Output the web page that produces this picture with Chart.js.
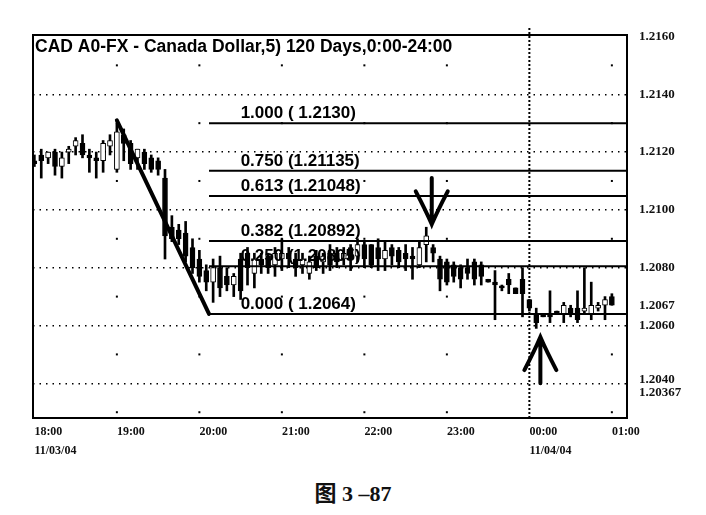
<!DOCTYPE html>
<html>
<head>
<meta charset="utf-8">
<script src="https://cdn.jsdelivr.net/npm/chart.js@4.4.1/dist/chart.umd.min.js"></script>
<style>
  html, body { margin: 0; padding: 0; background: #fff; }
  #wrap { position: relative; width: 706px; height: 515px; }
  #box { position: absolute; left: 0; top: 0; width: 706px; height: 470px; }
  #caption { position: absolute; left: 0; top: 475px; width: 706px; text-align: center;
             font: bold 22px "Liberation Serif", serif; color: #111; }
  #caption .zh { font-family: "Noto Sans CJK SC", sans-serif; }
</style>
</head>
<body>
<div id="wrap">
  <div id="box"><canvas id="chart"></canvas></div>
  <div id="caption"><span class="zh">图</span> 3 –87</div>
</div>
<script>
// 5-minute bars, CAD, 11/03/04 18:00 -> 11/04/04 01:00
const times = [
  '18:00','18:05','18:10','18:15','18:20','18:25','18:30','18:35','18:40','18:45','18:50','18:55',
  '19:00','19:05','19:10','19:15','19:20','19:25','19:30','19:35','19:40','19:45','19:50','19:55',
  '20:00','20:05','20:10','20:15','20:20','20:25','20:30','20:35','20:40','20:45','20:50','20:55',
  '21:00','21:05','21:10','21:15','21:20','21:25','21:30','21:35','21:40','21:45','21:50','21:55',
  '22:00','22:05','22:10','22:15','22:20','22:25','22:30','22:35','22:40','22:45','22:50','22:55',
  '23:00','23:05','23:10','23:15','23:20','23:25','23:30','23:35','23:40','23:45','23:50','23:55',
  '00:00','00:05','00:10','00:15','00:20','00:25','00:30','00:35','00:40','00:45','00:50','00:55',
  '01:00'
];
const opens = [
  1.2117,1.2119,1.2118,1.2120,1.2115,1.2120,1.2122,1.2123,1.2119,1.2118,1.2117,1.2122,
  1.2114,1.2126,1.2123,1.2118,1.2120,1.2118,1.2117,1.2111,1.2094,1.2093,1.2092,1.2087,
  1.2083,1.2079,1.2075,1.2080,1.2077,1.2074,1.2083,1.2085,1.2078,1.2083,1.2084,1.2081,
  1.2083,1.2085,1.2083,1.2081,1.2078,1.2084,1.2082,1.2085,1.2085,1.2083,1.2087,1.2084,
  1.2088,1.2088,1.2087,1.2083,1.2087,1.2086,1.2085,1.2084,1.2081,1.2088,1.2087,1.2083,
  1.2082,1.2081,1.2080,1.2080,1.2082,1.2081,1.2076,1.2075,1.2073,1.2076,1.2073,1.2076,
  1.2069,1.2064,1.2064,1.2064,1.2065,1.2064,1.2066,1.2066,1.2065,1.2064,1.2066,1.2067,
  1.2070
];
const highs = [
  1.2119,1.2121,1.2120,1.2121,1.2120,1.2122,1.2125,1.2126,1.2121,1.2120,1.2124,1.2126,
  1.2130,1.2128,1.2124,1.2121,1.2121,1.2119,1.2118,1.2114,1.2098,1.2095,1.2096,1.2090,
  1.2086,1.2081,1.2083,1.2084,1.2080,1.2078,1.2085,1.2087,1.2085,1.2085,1.2085,1.2087,
  1.2090,1.2087,1.2085,1.2085,1.2084,1.2086,1.2085,1.2088,1.2087,1.2087,1.2088,1.2090,
  1.2089,1.2088,1.2090,1.2089,1.2088,1.2087,1.2088,1.2087,1.2089,1.2094,1.2088,1.2084,
  1.2083,1.2082,1.2081,1.2083,1.2083,1.2082,1.2076,1.2079,1.2074,1.2078,1.2073,1.2080,
  1.2069,1.2066,1.2064,1.2072,1.2065,1.2068,1.2067,1.2072,1.2080,1.2075,1.2068,1.2070,
  1.2071
];
const lows = [
  1.2115,1.2111,1.2116,1.2112,1.2111,1.2116,1.2119,1.2118,1.2113,1.2111,1.2113,1.2119,
  1.2113,1.2117,1.2114,1.2114,1.2114,1.2113,1.2112,1.2083,1.2089,1.2088,1.2082,1.2078,
  1.2075,1.2072,1.2068,1.2070,1.2072,1.2070,1.2069,1.2074,1.2073,1.2078,1.2078,1.2077,
  1.2079,1.2080,1.2077,1.2078,1.2076,1.2079,1.2078,1.2079,1.2080,1.2081,1.2079,1.2082,
  1.2080,1.2080,1.2079,1.2079,1.2081,1.2080,1.2079,1.2076,1.2080,1.2082,1.2082,1.2072,
  1.2074,1.2075,1.2073,1.2076,1.2074,1.2074,1.2075,1.2062,1.2072,1.2071,1.2071,1.2063,
  1.2065,1.2059,1.2063,1.2061,1.2064,1.2061,1.2063,1.2061,1.2064,1.2062,1.2065,1.2062,
  1.2067
];
const closes = [
  1.2116,1.2117,1.2120,1.2115,1.2118,1.2121,1.2124,1.2119,1.2118,1.2117,1.2123,1.2124,
  1.2127,1.2123,1.2116,1.2121,1.2116,1.2114,1.2114,1.2091,1.2090,1.2090,1.2084,1.2080,
  1.2077,1.2075,1.2080,1.2073,1.2074,1.2077,1.2072,1.2080,1.2083,1.2081,1.2080,1.2085,
  1.2085,1.2083,1.2080,1.2083,1.2082,1.2080,1.2084,1.2081,1.2082,1.2085,1.2083,1.2088,
  1.2083,1.2081,1.2083,1.2086,1.2084,1.2082,1.2083,1.2083,1.2087,1.2091,1.2085,1.2076,
  1.2075,1.2077,1.2076,1.2078,1.2076,1.2077,1.2075,1.2074,1.2073,1.2074,1.2071,1.2071,
  1.2066,1.2061,1.2063,1.2063,1.2064,1.2067,1.2064,1.2062,1.2066,1.2067,1.2067,1.2069,
  1.2067
];

const hourTicks = ['18:00','19:00','20:00','21:00','22:00','23:00','00:00','01:00'];
const dateLabels = { '18:00': '11/03/04', '00:00': '11/04/04' };
const yTickLabels = ['1.2160','1.2140','1.2120','1.2100','1.2080','1.2067','1.2060','1.2040','1.20367'];
const gridLevels = [1.2140, 1.2120, 1.2100, 1.2080, 1.2060, 1.2040];
const dotLevels = [1.2150, 1.2130, 1.2110, 1.2090, 1.2070, 1.2050, 1.2030];

const fibPrices = [1.2130, 1.21135, 1.21048, 1.20892, 1.20805, 1.2064];
const fibLabels = ['1.000 ( 1.2130)', '0.750 (1.21135)', '0.613 (1.21048)',
                   '0.382 (1.20892)', '0.250 (1.20805)', '0.000 ( 1.2064)'];
const fibStart = '20:07';
const fibLabelAt = '20:30';

const trendTimes = ['19:00', '20:07'];
const trendPrices = [1.2131, 1.2064];

const arrowTimes = ['22:49', '00:08'];
const arrowTips = [1.2095, 1.2056];
const arrowTails = [1.2111, 1.2040];

const sessionBreak = '00:00';
const chartTitle = 'CAD A0-FX - Canada Dollar,5) 120 Days,0:00-24:00';

function toMin(t) {
  let [h, m] = t.split(':').map(Number);
  if (h < 18) h += 24;
  return (h - 18) * 60 + m;
}

const wickData = times.map((t, i) => ({ x: toMin(t), y: [lows[i], highs[i]] }));
const bodyData = times.map((t, i) => ({ x: toMin(t), y: [opens[i], closes[i]] }));
const bodyFill = times.map((t, i) => closes[i] > opens[i] ? '#ffffff' : '#000000');

const overlay = {
  id: 'overlay',
  beforeDatasetsDraw(chart) {
    const { ctx, chartArea: a, scales: { x, y } } = chart;
    ctx.save();
    ctx.fillStyle = '#000';
    // grid dots at the hours
    hourTicks.slice(1).forEach(h => {
      if (h === sessionBreak) return;
      const px = x.getPixelForValue(toMin(h));
      dotLevels.forEach(v => {
        const py = y.getPixelForValue(v);
        if (py > a.top && py < a.bottom) ctx.fillRect(px - 1, py - 1, 2, 2);
      });
    });
    // session break
    const bx = x.getPixelForValue(toMin(sessionBreak));
    ctx.strokeStyle = '#000';
    ctx.lineWidth = 2;
    ctx.setLineDash([2, 2]);
    ctx.beginPath();
    ctx.moveTo(bx, a.top - 7);
    ctx.lineTo(bx, a.bottom);
    ctx.stroke();
    ctx.restore();
  },
  afterDatasetsDraw(chart) {
    const { ctx, chartArea: a, scales: { x, y } } = chart;
    ctx.save();
    ctx.strokeStyle = '#000';
    ctx.fillStyle = '#000';
    // fibonacci levels
    const fx = x.getPixelForValue(toMin(fibStart));
    const lx = x.getPixelForValue(toMin(fibLabelAt));
    ctx.lineWidth = 2;
    ctx.font = 'bold 17px "Liberation Sans", Arial, sans-serif';
    ctx.textAlign = 'left';
    ctx.textBaseline = 'bottom';
    fibPrices.forEach((p, i) => {
      const py = y.getPixelForValue(p);
      ctx.beginPath();
      ctx.moveTo(fx, py);
      ctx.lineTo(a.right, py);
      ctx.stroke();
      ctx.fillText(fibLabels[i], lx, py - 1);
    });
    // trend line
    ctx.lineWidth = 4;
    ctx.lineCap = 'round';
    ctx.beginPath();
    ctx.moveTo(x.getPixelForValue(toMin(trendTimes[0])), y.getPixelForValue(trendPrices[0]));
    ctx.lineTo(x.getPixelForValue(toMin(trendTimes[1])), y.getPixelForValue(trendPrices[1]));
    ctx.stroke();
    // arrows
    arrowTimes.forEach((t, i) => {
      const ax = x.getPixelForValue(toMin(t));
      const tip = y.getPixelForValue(arrowTips[i]);
      const tail = y.getPixelForValue(arrowTails[i]);
      const dir = tail < tip ? -1 : 1;
      ctx.lineWidth = 4;
      ctx.beginPath();
      ctx.moveTo(ax, tail);
      ctx.lineTo(ax, tip);
      ctx.moveTo(ax - 16, tip + dir * 33);
      ctx.quadraticCurveTo(ax - 6, tip + dir * 14, ax, tip);
      ctx.quadraticCurveTo(ax + 6, tip + dir * 14, ax + 16, tip + dir * 33);
      ctx.stroke();
    });
    // title
    ctx.font = 'bold 17.5px "Liberation Sans", Arial, sans-serif';
    ctx.textBaseline = 'top';
    ctx.fillText(chartTitle, a.left + 2, a.top + 3);
    // frame
    ctx.lineWidth = 2;
    ctx.lineCap = 'butt';
    ctx.strokeRect(a.left, a.top, a.right - a.left, a.bottom - a.top);
    ctx.restore();
  }
};

new Chart(document.getElementById('chart'), {
  type: 'bar',
  data: {
    datasets: [
      {
        label: 'Body',
        data: bodyData,
        backgroundColor: bodyFill,
        borderColor: '#000',
        borderWidth: 1,
        borderSkipped: false,
        barThickness: 5,
        minBarLength: 2,
        grouped: false,
        order: 0
      },
      {
        label: 'Range',
        data: wickData,
        backgroundColor: '#000',
        borderWidth: 0,
        barThickness: 2,
        grouped: false,
        order: 1
      }
    ]
  },
  options: {
    responsive: true,
    maintainAspectRatio: false,
    animation: false,
    layout: { padding: { left: 33, top: 35, right: 0, bottom: 0 } },
    plugins: { legend: { display: false }, tooltip: { enabled: false } },
    scales: {
      x: {
        type: 'linear',
        offset: false,
        min: -1,
        max: 431,
        afterBuildTicks: s => { s.ticks = hourTicks.map(h => ({ value: toMin(h) })); },
        afterFit: s => { s.height = 52; },
        grid: { display: false, offset: false },
        border: { display: false },
        ticks: {
          autoSkip: false,
          maxRotation: 0,
          align: 'start',
          padding: -4,
          color: '#111',
          font: { family: '"Liberation Serif", serif', size: 12, weight: 'bold', lineHeight: 1.6 },
          callback: (v, i) => {
            const h = hourTicks[i];
            return dateLabels[h] ? [h, dateLabels[h]] : h;
          }
        }
      },
      y: {
        position: 'right',
        min: 1.2028,
        max: 1.21605,
        afterBuildTicks: s => { s.ticks = yTickLabels.map(l => ({ value: parseFloat(l) })); },
        afterFit: s => { s.width = 79; },
        border: { display: false, dash: [1.5, 5] },
        grid: {
          drawTicks: false,
          lineWidth: 1.5,
          color: c => gridLevels.some(g => Math.abs(g - c.tick.value) < 1e-7) ? '#000' : 'rgba(0,0,0,0)'
        },
        ticks: {
          padding: 12,
          color: '#111',
          font: c => ({ family: '"Liberation Serif", serif', size: 13, weight: 'bold',
                        lineHeight: yTickLabels[c.index] === '1.2040' ? 0.55 : 1.2 }),
          // lift the 1.2040 label a little so it clears 1.20367
          callback: (v, i) => yTickLabels[i] === '1.2040' ? [yTickLabels[i], ''] : yTickLabels[i]
        }
      }
    }
  },
  plugins: [overlay]
});
</script>
</body>
</html>
